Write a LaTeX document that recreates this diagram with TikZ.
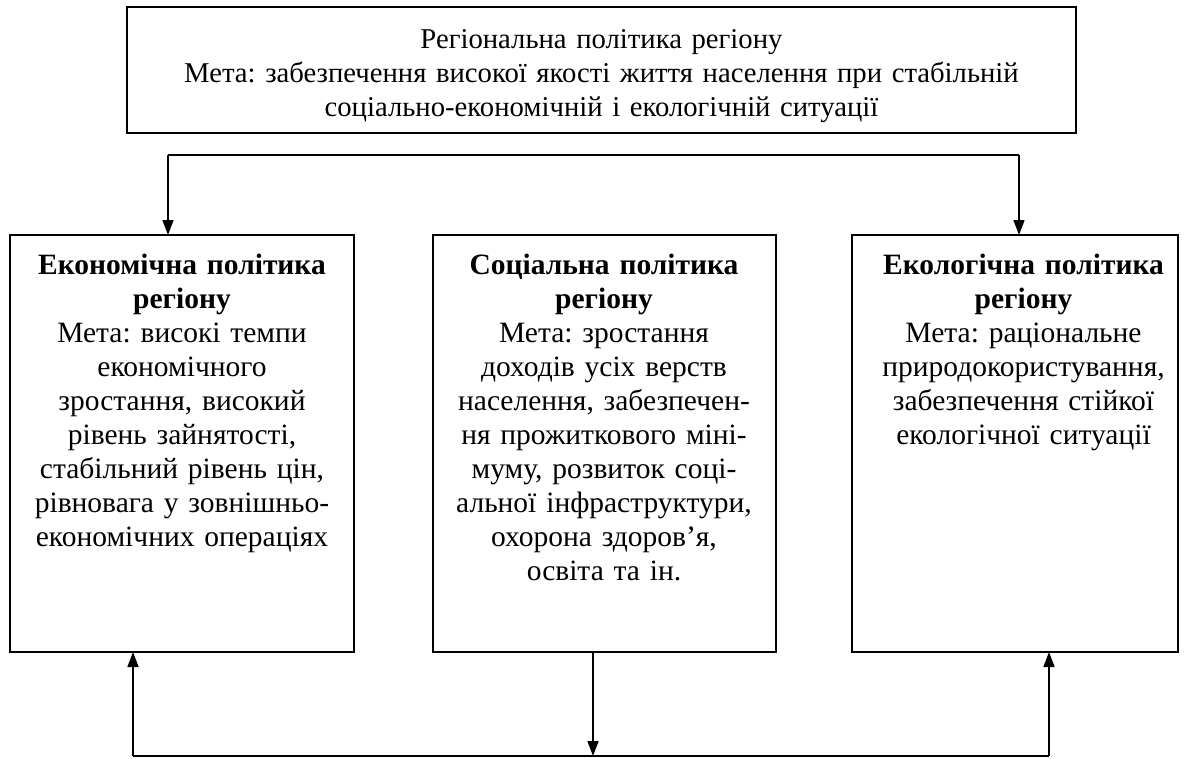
\documentclass[tikz,border=0pt]{standalone}
\usepackage{fontspec}
\setmainfont{Liberation Serif}
\usetikzlibrary{arrows.meta}
\frenchspacing
\begin{document}
\begin{tikzpicture}[x=1pt,y=-1pt,
  box/.style={draw, line width=1.5pt, inner sep=0pt, outer sep=0pt, rectangle, anchor=north west},
  txt/.style={align=center, inner sep=0pt, anchor=base, font=\fontsize{29.5}{34}\selectfont\frenchspacing},
  toptxt/.style={txt, font=\fontsize{28.7}{34}\selectfont\frenchspacing},
  conn/.style={line width=1.5pt},
  arr/.style={conn, -{Triangle[length=15pt,width=11pt]}}
]
\useasboundingbox (0,0) rectangle (1191,758);
% boxes
\node[box, minimum width=949pt, minimum height=126pt] (top) at (127,7) {};
\node[box, minimum width=344pt, minimum height=417pt] (econ) at (10,235) {};
\node[box, minimum width=343pt, minimum height=417pt] (soc) at (433,235) {};
\node[box, minimum width=326pt, minimum height=417pt] (ecol) at (852,235) {};
% texts
\node[toptxt, text width=949pt] (toptext) at (601.5,48) {Регіональна політика регіону\\Мета: забезпечення високої якості життя населення при стабільній\\соціально-економічній і екологічній ситуації};
\node[txt, text width=344pt] (econtext) at (182,274) {\textbf{Економічна політика}\\\textbf{регіону}\\Мета: високі темпи\\економічного\\зростання, високий\\рівень зайнятості,\\стабільний рівень цін,\\рівновага у зовнішньо-\\економічних операціях};
\node[txt, text width=343pt] (soctext) at (604,274) {\textbf{Соціальна політика}\\\textbf{регіону}\\Мета: зростання\\доходів усіх верств\\населення, забезпечен-\\ня прожиткового міні-\\муму, розвиток соці-\\альної інфраструктури,\\охорона здоров’я,\\освіта та ін.};
\node[txt, text width=326pt] (ecoltext) at (1023.5,274) {\textbf{Екологічна політика}\\\textbf{регіону}\\Мета: раціональне\\природокористування,\\забезпечення стійкої\\екологічної ситуації};
% connectors
\coordinate (tl) at (168,155);
\coordinate (tr) at (1019,155);
\coordinate (bl) at (133,756);
\coordinate (br) at (1049,756);
\coordinate (bm) at (593,756);
\draw[conn] (tl) -- (tr);
\draw[arr] (tl) -- (tl |- econ.north);
\draw[arr] (tr) -- (tr |- ecol.north);
\draw[conn] (bl) -- (br);
\draw[arr] (bl) -- (bl |- econ.south);
\draw[arr] (br) -- (br |- ecol.south);
\draw[arr] (bm |- soc.south) -- (bm);
\end{tikzpicture}
\end{document}
